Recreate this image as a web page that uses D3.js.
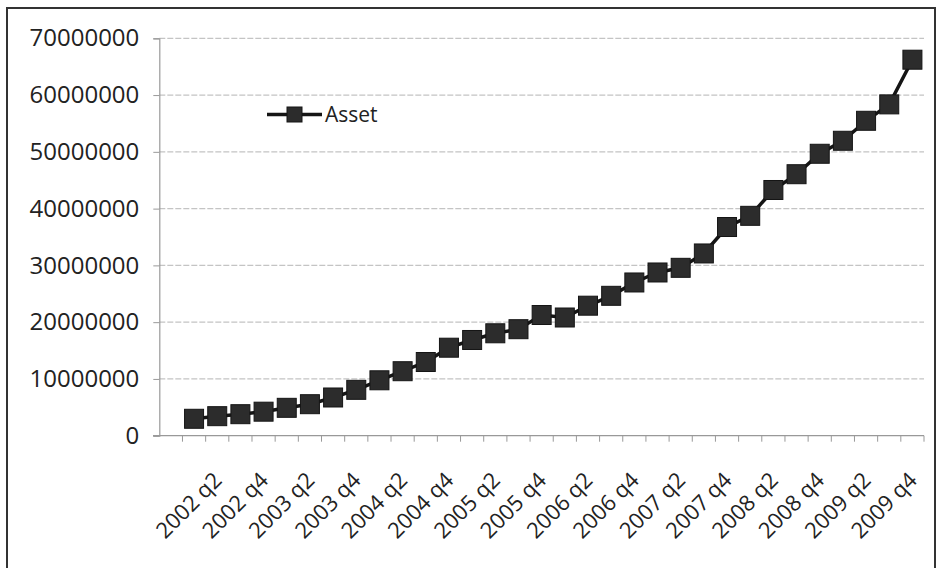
<!DOCTYPE html>
<html>
<meta charset="UTF-8">
<head>
    <script src="https://d3js.org/d3.v7.min.js"></script>
    <style>
        body {
            margin: 0;
            background: white;
            font-family: "Open Sans", sans-serif;
        }
    </style>
</head>
<body>
</body>
<script>
    // quarters on the category axis (first slot is empty in the original)
    let quarters = ["",
        "2002 q1", "2002 q2", "2002 q3", "2002 q4",
        "2003 q1", "2003 q2", "2003 q3", "2003 q4",
        "2004 q1", "2004 q2", "2004 q3", "2004 q4",
        "2005 q1", "2005 q2", "2005 q3", "2005 q4",
        "2006 q1", "2006 q2", "2006 q3", "2006 q4",
        "2007 q1", "2007 q2", "2007 q3", "2007 q4",
        "2008 q1", "2008 q2", "2008 q3", "2008 q4",
        "2009 q1", "2009 q2", "2009 q3", "2009 q4"];

    // Asset values
    let asset = [null,
        2980000, 3440000, 3790000, 4230000,
        4910000, 5550000, 6730000, 8080000,
        9760000, 11360000, 12980000, 15500000,
        16860000, 18040000, 18760000, 21260000,
        20820000, 22900000, 24640000, 26990000,
        28750000, 29570000, 32100000, 36760000,
        38730000, 43280000, 46060000, 49660000,
        51950000, 55470000, 58360000, 66230000];

    let yTicks = [0, 10000000, 20000000, 30000000, 40000000, 50000000, 60000000, 70000000];
    let seriesName = "Asset";

    let width = 937;
    let height = 568;

    let svg = d3.select("body").append("svg")
        .attr("width", width)
        .attr("height", height);

    // chart border
    svg.append("rect")
        .attr("x", 7)
        .attr("y", 8)
        .attr("width", 928)
        .attr("height", 600)
        .attr("fill", "white")
        .attr("stroke", "#333")
        .attr("stroke-width", 2);

    let x = d3.scaleBand()
        .domain(quarters)
        .range([159.3, 924]);

    let y = d3.scaleLinear()
        .domain([0, 70000000])
        .range([435.7, 38.3]);

    // gridlines
    svg.append("g")
        .selectAll("line")
        .data(yTicks.slice(1))
        .join("line")
        .attr("x1", 159.3)
        .attr("x2", 924)
        .attr("y1", d => y(d))
        .attr("y2", d => y(d))
        .attr("stroke", "#c4c4c4")
        .attr("stroke-width", 1.2)
        .attr("stroke-dasharray", "6,2");

    // y axis
    let yAxis = svg.append("g")
        .attr("transform", "translate(159.3,0)")
        .call(d3.axisLeft(y).tickValues(yTicks).tickSize(6).tickPadding(14).tickFormat(d3.format("d")));
    yAxis.select(".domain").attr("stroke", "#999").attr("stroke-width", 1.2);
    yAxis.selectAll(".tick line").attr("stroke", "#999");
    yAxis.selectAll("text")
        .attr("font-family", "Open Sans")
        .attr("font-size", 24)
        .attr("fill", "#222");

    // x axis line and category boundary ticks
    let xg = svg.append("g");
    xg.append("line")
        .attr("x1", 153)
        .attr("x2", 924)
        .attr("y1", y(0))
        .attr("y2", y(0))
        .attr("stroke", "#999")
        .attr("stroke-width", 1.2);
    xg.selectAll(".bt")
        .data(quarters.slice(1).concat(["end"]))
        .join("line")
        .attr("class", "bt")
        .attr("x1", d => d == "end" ? x.range()[1] : x(d))
        .attr("x2", d => d == "end" ? x.range()[1] : x(d))
        .attr("y1", y(0))
        .attr("y2", y(0) + 6)
        .attr("stroke", "#999");

    // rotated labels on every second category
    let labelled = quarters.filter((d, i) => i % 2 == 0 && d != "");
    let xAxis = svg.append("g")
        .attr("transform", `translate(0,${y(0)})`)
        .call(d3.axisBottom(x).tickValues(labelled).tickSize(0));
    xAxis.select(".domain").remove();
    xAxis.selectAll("text")
        .attr("font-family", "Open Sans")
        .attr("font-size", 22)
        .attr("fill", "#222")
        .attr("text-anchor", "end")
        .attr("dy", 0)
        .attr("y", 0)
        .attr("transform", "translate(6,46) rotate(-45)");

    // series line
    let line = d3.line()
        .defined(d => d[1] != null)
        .x(d => x(d[0]) + x.bandwidth() / 2)
        .y(d => y(d[1]));

    let points = quarters.map((q, i) => [q, asset[i]]);

    svg.append("path")
        .datum(points)
        .attr("fill", "none")
        .attr("stroke", "#151515")
        .attr("stroke-width", 3.5)
        .attr("d", line);

    let ms = 19;
    svg.append("g")
        .selectAll("rect")
        .data(points.filter(d => d[1] != null))
        .join("rect")
        .attr("x", d => x(d[0]) + x.bandwidth() / 2 - ms / 2)
        .attr("y", d => y(d[1]) - ms / 2)
        .attr("width", ms)
        .attr("height", ms)
        .attr("fill", "#2c2c2c")
        .attr("stroke", "#151515")
        .attr("stroke-width", 1);

    // legend
    let legend = svg.append("g");
    legend.append("line")
        .attr("x1", 267)
        .attr("x2", 322)
        .attr("y1", 114.5)
        .attr("y2", 114.5)
        .attr("stroke", "#151515")
        .attr("stroke-width", 3.5);
    legend.append("rect")
        .attr("x", 287)
        .attr("y", 107)
        .attr("width", 15)
        .attr("height", 15)
        .attr("fill", "#2c2c2c")
        .attr("stroke", "#151515");
    legend.append("text")
        .attr("x", 325)
        .attr("y", 122)
        .attr("font-family", "Open Sans")
        .attr("font-size", 21)
        .attr("fill", "#222")
        .text(seriesName);
</script>
</html>
